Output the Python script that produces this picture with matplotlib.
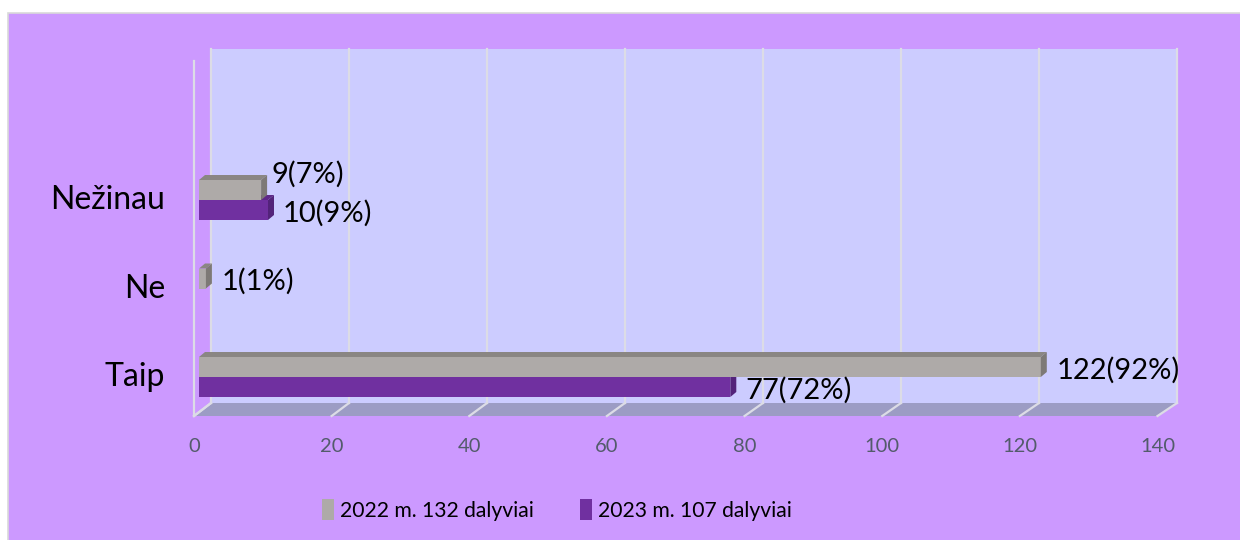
import matplotlib
matplotlib.use("Agg")
import matplotlib.pyplot as plt
from matplotlib.patches import Rectangle, Polygon, Patch

plt.rcParams['font.family'] = ['Lato', 'DejaVu Sans']

# ---- data ----
categories = ["Taip", "Ne", "Nežinau"]
series_names = ["2022 m. 132 dalyviai", "2023 m. 107 dalyviai"]
values_2022 = [122, 1, 9]
values_2023 = [77, 0, 10]
labels_2022 = ["122(92%)", "1(1%)", "9(7%)"]
labels_2023 = ["77(72%)", "", "10(9%)"]
x_ticks = [0, 20, 40, 60, 80, 100, 120, 140]

# ---- style ----
BG = "#CC99FF"
WALL = "#CCCCFF"
FLOOR = "#9C9CC4"
GRID = "#DCDCE6"
GRAY = ("#AEAAA8", "#8A8683", "#7D7976")     # front, top, side
PURP = ("#7030A0", "#5E2888", "#53237A")
TICK_C = "#535B6B"

W, H = 1240, 540
fig = plt.figure(figsize=(W / 100, H / 100), dpi=100)
fig.patch.set_facecolor("white")
fig.patches.append(Rectangle((8 / W, -0.01), 1.02 - 8 / W, 1.01 - 13 / H,
                             transform=fig.transFigure, facecolor=BG,
                             edgecolor="#D9D9D9", linewidth=1.2, zorder=-10))

ax = fig.add_axes([0, 0, 1, 1])
ax.set_zorder(5)
ax.set_facecolor("none")
ax.axis("off")

PXU = 6.9      # pixels per value unit
PYC = 88.5     # pixels per category step
X0 = 199       # pixel of value 0 (bar plane)
Y0 = 377       # pixel row of group baseline for category 0
ax.set_xlim(-X0 / PXU, (W - X0) / PXU)
ax.set_ylim((Y0 - H) / PYC, Y0 / PYC)

def dx(p):
    return p / PXU

def cy(ypix):
    return (Y0 - ypix) / PYC

xmax = x_ticks[-1]
bdx, fdx = dx(12), dx(-5)
y_back, y_front, y_top_back, y_top_front = cy(403), cy(416), cy(49), cy(61)

# back wall
ax.add_patch(Rectangle((bdx, y_back), xmax, y_top_back - y_back,
                       facecolor=WALL, edgecolor="none", zorder=1))
# floor
ax.add_patch(Polygon([(bdx, y_back), (xmax + bdx, y_back),
                      (xmax + fdx * 1.5, y_front), (fdx, y_front)],
                     closed=True, facecolor=FLOOR, edgecolor="none", zorder=1))
# gridlines on wall and floor
for v in x_ticks:
    ax.plot([v + bdx, v + bdx], [y_back, y_top_back], color=GRID, lw=1.6, zorder=2)
    ax.plot([v + bdx, v + fdx * (1 + 0.5 * v / xmax)], [y_back, y_front],
            color=GRID, lw=1.6, zorder=2)
    ax.text(v + fdx * (1 + 0.5 * v / xmax), cy(446), str(v), ha="center", va="center",
            fontsize=14.5, color=TICK_C)
# left wall edge
ax.plot([fdx, fdx], [y_front, y_top_front], color=GRID, lw=1.6, zorder=2)
ax.plot([fdx, bdx], [y_front, y_back], color=GRID, lw=1.6, zorder=2)

bh = 20 / PYC
idx = list(range(len(categories)))
ox, oy = dx(6), 5 / PYC


def draw_3d(container, cols):
    for r in container:
        x, y, w, h = r.get_x(), r.get_y(), r.get_width(), r.get_height()
        if w <= 0:
            r.set_visible(False)
            continue
        ax.add_patch(Polygon([(x, y + h), (x + w, y + h), (x + w + ox, y + h + oy),
                              (x + ox, y + h + oy)], closed=True,
                             facecolor=cols[1], edgecolor="none", zorder=r.get_zorder()))
        ax.add_patch(Polygon([(x + w, y), (x + w + ox, y + oy), (x + w + ox, y + h + oy),
                              (x + w, y + h)], closed=True,
                             facecolor=cols[2], edgecolor="none", zorder=r.get_zorder()))


b23 = ax.barh([i - bh / 2 for i in idx], values_2023, height=bh, left=0,
              color=PURP[0], zorder=3)
draw_3d(b23, PURP)
b22 = ax.barh([i + bh / 2 for i in idx], values_2022, height=bh, left=0,
              color=GRAY[0], zorder=4)
draw_3d(b22, GRAY)

LFS = 21
for i in idx:
    g, p = values_2022[i], values_2023[i]
    if labels_2022[i]:
        if p > g:   # label would collide with the longer bar below -> lift it
            ax.text(g + dx(10), i + bh / 2 + 16 / PYC, labels_2022[i], ha="left",
                    va="center", fontsize=LFS, zorder=6)
        else:
            ax.text(g + dx(16), i + bh / 2 - 3 / PYC, labels_2022[i], ha="left",
                    va="center", fontsize=LFS, zorder=6)
    if labels_2023[i]:
        ax.text(p + dx(15), i - bh / 2 - 3 / PYC, labels_2023[i], ha="left",
                va="center", fontsize=LFS, zorder=6)
    ax.text(dx(-34), i, categories[i], ha="right", va="center", fontsize=23)

handles = [Patch(facecolor=GRAY[0]), Patch(facecolor=PURP[0])]
ax.legend(handles, series_names, loc="center", ncol=2, frameon=False,
          bbox_to_anchor=(557 / W, 1 - 510 / H), bbox_transform=fig.transFigure,
          fontsize=15.2, handlelength=0.55, handleheight=1.1, handletextpad=0.3,
          columnspacing=2.2)

fig.savefig("out.png", dpi=100)
